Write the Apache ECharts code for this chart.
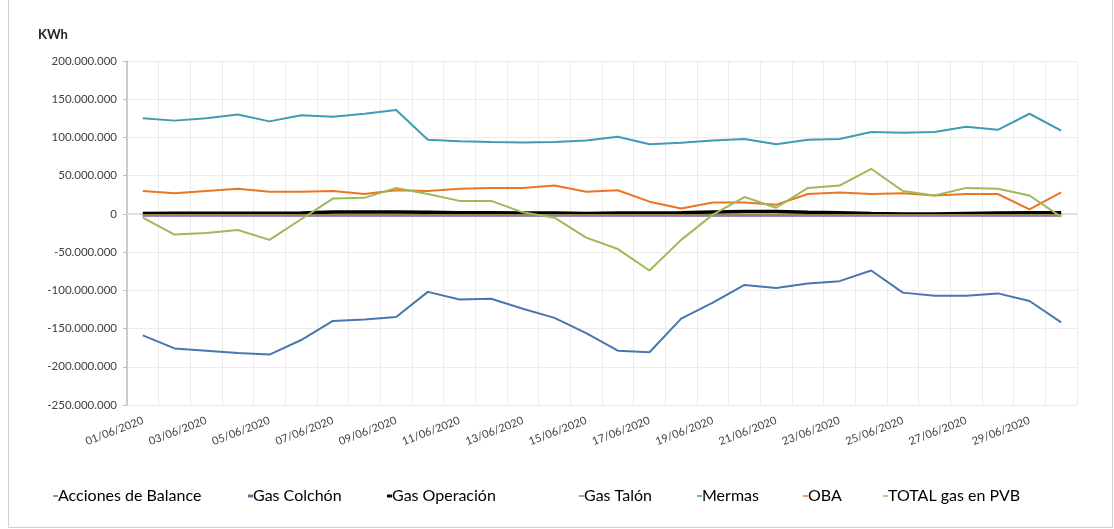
<!DOCTYPE html>
<html>
<head>
<meta charset="utf-8">
<script src="https://cdn.jsdelivr.net/npm/echarts@6/dist/echarts.min.js"></script>
<style>
html,body{margin:0;padding:0;background:#fff;}
#c{width:1114px;height:529px;}
</style>
</head>
<body>
<div id="c"></div>
<script>
// Values in millions of KWh
var categories = ['01/06/2020','02/06/2020','03/06/2020','04/06/2020','05/06/2020','06/06/2020','07/06/2020','08/06/2020','09/06/2020','10/06/2020',
  '11/06/2020','12/06/2020','13/06/2020','14/06/2020','15/06/2020','16/06/2020','17/06/2020','18/06/2020','19/06/2020','20/06/2020',
  '21/06/2020','22/06/2020','23/06/2020','24/06/2020','25/06/2020','26/06/2020','27/06/2020','28/06/2020','29/06/2020','30/06/2020'];

var accionesBalance = [-159,-176,-179,-182,-184,-165,-140,-138,-135,-102,-112,-111,-124,-136,-156,-179,-181,-137,-116,-93,-97,-91,-88,-74,-103,-107,-107,-104,-114,-142];
var gasColchon     = [-2.5,-2.5,-2.5,-2.5,-2.5,-2.5,-2.5,-2.5,-2.5,-2.5,-2.5,-2.5,-2.5,-2.5,-2.5,-2.5,-2.5,-2.5,-2.5,-2.5,-2.5,-2.5,-2.5,-2.5,-2.5,-2.5,-2.5,-2.5,-2.5,-2.5];
var gasOperacion   = [0.5,0.8,0.8,0.8,0.8,1.2,2.5,2.5,2.5,2,1.5,1.5,1.2,1,0.5,1,1,1.5,2.5,3,3,2.2,1.5,0.5,0,0,0.5,1,1.5,1.5];
var gasTalon       = [-1.5,-1.5,-1.5,-1.5,-1.5,-1.5,-1.5,-1.5,-1.5,-1.5,-1.5,-1.5,-1.5,-1.5,-1.5,-1.5,-1.5,-1.5,-1.5,-1.5,-1.5,-1.5,-1.5,-1.5,-1.5,-1.5,-1.5,-1.5,-1.5,-1.5];
var mermas         = [125,122,125,130,121,129,127,131,136,97,95,94,93.5,94,96,101,91,93,96,98,91,97,98,107,106,107,114,110,131,109];
var oba            = [30,27,30,33,29,29,30,26,31,30,33,34,34,37,29,31,16,7,15,15,12,26,28,26,27,24,26,26,6,28];
var totalPVB       = [-5,-27,-25,-21,-34,-7,20,21,34,26,17,17,2,-5,-31,-46,-74,-34,-1,22,8,34,37,59,30,24,34,33,24,-4];

var yTicks = {min:-250, max:200, interval:50};

var seriesNames = ['Acciones de Balance','Gas Colchón','Gas Operación','Gas Talón','Mermas','OBA','TOTAL gas en PVB'];
var seriesData = [accionesBalance, gasColchon, gasOperacion, gasTalon, mermas, oba, totalPVB];
var colors = ['#4A76B0','#8064A2','#000000','#948A54','#3E9CB5','#ED7522','#9BBB59'];
var widths = [2,2,3.5,2,2,2,2];
var legendLeft = [53,248,387,579,697,803,883];
var legendIconH = [1.5,3,3,1.5,1.5,1.5,1.5];

function fmt(v){
  var n = Math.round(Math.abs(v*1000000));
  if (n === 0) return '0';
  var s = String(n).replace(/\B(?=(\d{3})+(?!\d))/g,'.');
  return (v<0?'-':'') + s;
}

var FONT = 'Lato, "Liberation Sans", sans-serif';

var series = seriesNames.map(function(name,i){
  var s = {
    name: name, type: 'line', data: seriesData[i],
    symbol: 'none', showSymbol: false, silent: true,
    lineStyle: {color: colors[i], width: widths[i]},
    itemStyle: {color: colors[i]},
    z: 2 + i
  };
  if (i === 0) {
    s.markLine = {silent:true, symbol:'none', label:{show:false},
      lineStyle:{color:'#d9d9d9', width:1.5, type:'solid'},
      data:[{yAxis:0}], z:1};
  }
  return s;
});

var legends = seriesNames.map(function(name,i){
  return {
    data:[name], left: legendLeft[i], top: 488, padding: 0,
    icon: 'rect', itemWidth: 5, itemHeight: legendIconH[i], itemGap: 0,
    selectedMode: false,
    textStyle: {fontFamily: FONT, fontSize: 16, color: '#000', padding:[0,0,0,-5]}
  };
});

var chart = echarts.init(document.getElementById('c'), null, {renderer:'canvas'});
chart.setOption({
  animation: false,
  backgroundColor: '#fff',
  color: colors,
  title: {text: 'KWh', left: 38, top: 28, padding: 0,
    textStyle: {fontFamily: FONT, fontSize: 13, fontWeight: 'bold', color: '#222'}},
  legend: legends,
  grid: {left: 127, right: 37, top: 61, bottom: 124, containLabel: false},
  xAxis: {
    type: 'category', data: categories, boundaryGap: true,
    axisLine: {show: false},
    axisTick: {show: false},
    axisLabel: {interval: 1, rotate: 21, margin: 15, fontFamily: FONT, fontSize: 11, color: '#404040'},
    splitLine: {show: true, interval: 0, lineStyle: {color: '#ececec', width: 1}}
  },
  yAxis: {
    type: 'value', min: yTicks.min, max: yTicks.max, interval: yTicks.interval,
    axisLine: {show: true, lineStyle: {color: '#bfbfbf', width: 1.5}},
    axisTick: {show: true, length: 4, inside: false, lineStyle: {color: '#bfbfbf'}},
    axisLabel: {formatter: fmt, margin: 10, fontFamily: FONT, fontSize: 11.5, color: '#404040'},
    splitLine: {show: true, lineStyle: {color: '#ececec', width: 1}}
  },
  graphic: [{type:'rect', shape:{x:8.5, y:-2, width:1104, height:529.5}, style:{fill:'none', stroke:'#d0d0d0', lineWidth:1}, silent:true, z:-1}],
  series: series
});
</script>
</body>
</html>
